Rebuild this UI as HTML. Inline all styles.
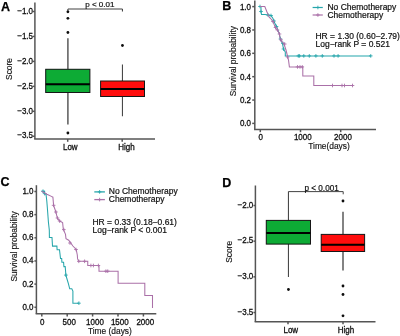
<!DOCTYPE html>
<html><head><meta charset="utf-8"><style>
html,body{margin:0;padding:0;background:#fff;width:400px;height:336px;overflow:hidden}
svg{display:block;will-change:transform}
text{font-family:"Liberation Sans",sans-serif}
</style></head><body>
<svg width="400" height="336" viewBox="0 0 400 336">
<defs><filter id="b" x="-5%" y="-5%" width="110%" height="110%"><feGaussianBlur stdDeviation="0.35"/></filter></defs>
<rect width="400" height="336" fill="#fff"/>
<g filter="url(#b)">
<text transform="translate(1.1,10.8)" font-size="12.5" text-anchor="start" font-weight="bold" fill="#000" stroke="#000" stroke-width="0.25">A</text>
<line x1="34.9" y1="2.5" x2="34.9" y2="139" stroke="#555" stroke-width="1.5"/>
<line x1="34.15" y1="139" x2="155" y2="139" stroke="#555" stroke-width="1.5"/>
<line x1="32.9" y1="11.5" x2="34.9" y2="11.5" stroke="#555" stroke-width="1.5"/>
<text transform="translate(33.0,13.71) scale(1,1.15)" font-size="8.0" text-anchor="end" font-weight="normal" fill="#111" stroke="#111" stroke-width="0.28">&#8722;1.0</text>
<line x1="32.9" y1="36.45" x2="34.9" y2="36.45" stroke="#555" stroke-width="1.5"/>
<text transform="translate(33.0,38.66) scale(1,1.15)" font-size="8.0" text-anchor="end" font-weight="normal" fill="#111" stroke="#111" stroke-width="0.28">&#8722;1.5</text>
<line x1="32.9" y1="61.4" x2="34.9" y2="61.4" stroke="#555" stroke-width="1.5"/>
<text transform="translate(33.0,63.61) scale(1,1.15)" font-size="8.0" text-anchor="end" font-weight="normal" fill="#111" stroke="#111" stroke-width="0.28">&#8722;2.0</text>
<line x1="32.9" y1="86.35" x2="34.9" y2="86.35" stroke="#555" stroke-width="1.5"/>
<text transform="translate(33.0,88.56) scale(1,1.15)" font-size="8.0" text-anchor="end" font-weight="normal" fill="#111" stroke="#111" stroke-width="0.28">&#8722;2.5</text>
<line x1="32.9" y1="111.3" x2="34.9" y2="111.3" stroke="#555" stroke-width="1.5"/>
<text transform="translate(33.0,113.51) scale(1,1.15)" font-size="8.0" text-anchor="end" font-weight="normal" fill="#111" stroke="#111" stroke-width="0.28">&#8722;3.0</text>
<line x1="32.9" y1="136.25" x2="34.9" y2="136.25" stroke="#555" stroke-width="1.5"/>
<text transform="translate(33.0,138.46) scale(1,1.15)" font-size="8.0" text-anchor="end" font-weight="normal" fill="#111" stroke="#111" stroke-width="0.28">&#8722;3.5</text>
<text transform="translate(12.0,69) rotate(-90)" font-size="8.4" text-anchor="middle" font-weight="normal" fill="#111" stroke="#111" stroke-width="0.15">Score</text>
<line x1="67.7" y1="139" x2="67.7" y2="141.8" stroke="#555" stroke-width="1.5"/>
<line x1="122.2" y1="139" x2="122.2" y2="141.8" stroke="#555" stroke-width="1.5"/>
<text transform="translate(70.3,150.22) scale(1,1.15)" font-size="8.0" text-anchor="middle" font-weight="normal" fill="#111" stroke="#111" stroke-width="0.28">Low</text>
<text transform="translate(126.4,150.22) scale(1,1.15)" font-size="8.0" text-anchor="middle" font-weight="normal" fill="#111" stroke="#111" stroke-width="0.28">High</text>
<line x1="67.9" y1="9" x2="122.45" y2="9" stroke="#444" stroke-width="1.1"/>
<line x1="67.9" y1="9" x2="67.9" y2="11.5" stroke="#444" stroke-width="1.1"/>
<line x1="122.45" y1="9" x2="122.45" y2="11.5" stroke="#444" stroke-width="1.1"/>
<text transform="translate(99.8,7.4)" font-size="8.0" text-anchor="middle" font-weight="normal" fill="#111" stroke="#111" stroke-width="0.2">p &lt; 0.01</text>
<line x1="67.9" y1="38.2" x2="67.9" y2="69.3" stroke="#5a5a5a" stroke-width="1.5"/>
<line x1="67.9" y1="92.5" x2="67.9" y2="124.5" stroke="#5a5a5a" stroke-width="1.5"/>
<rect x="45.7" y="69.3" width="44.2" height="23.2" fill="#08ab34" stroke="#151515" stroke-width="1"/>
<line x1="45.7" y1="84.3" x2="89.9" y2="84.3" stroke="#000" stroke-width="2"/>
<circle cx="67.9" cy="11.8" r="1.4" fill="#111"/>
<circle cx="67.9" cy="18.3" r="1.4" fill="#111"/>
<circle cx="67.9" cy="32.5" r="1.4" fill="#111"/>
<circle cx="67.9" cy="133" r="1.4" fill="#111"/>
<line x1="122.45" y1="64.5" x2="122.45" y2="81" stroke="#484848" stroke-width="1.1"/>
<line x1="122.45" y1="96.5" x2="122.45" y2="116.3" stroke="#484848" stroke-width="1.1"/>
<rect x="100.6" y="81" width="43.9" height="15.5" fill="#ff1008" stroke="#151515" stroke-width="1"/>
<line x1="100.6" y1="89.0" x2="144.5" y2="89.0" stroke="#000" stroke-width="1.9"/>
<circle cx="122.45" cy="45.5" r="1.4" fill="#111"/>
<text transform="translate(222.3,10.3)" font-size="12.5" text-anchor="start" font-weight="bold" fill="#000" stroke="#000" stroke-width="0.25">B</text>
<line x1="254.8" y1="0.5" x2="254.8" y2="129.4" stroke="#555" stroke-width="1.5"/>
<line x1="254.05" y1="129.4" x2="376" y2="129.4" stroke="#555" stroke-width="1.5"/>
<line x1="252.20000000000002" y1="6.6" x2="254.8" y2="6.6" stroke="#555" stroke-width="1.5"/>
<text transform="translate(251.0,9.51) scale(1,1.15)" font-size="8.0" text-anchor="end" font-weight="normal" fill="#111" stroke="#111" stroke-width="0.28">1.0</text>
<line x1="252.20000000000002" y1="29.96" x2="254.8" y2="29.96" stroke="#555" stroke-width="1.5"/>
<text transform="translate(251.0,32.87) scale(1,1.15)" font-size="8.0" text-anchor="end" font-weight="normal" fill="#111" stroke="#111" stroke-width="0.28">0.8</text>
<line x1="252.20000000000002" y1="53.32" x2="254.8" y2="53.32" stroke="#555" stroke-width="1.5"/>
<text transform="translate(251.0,56.23) scale(1,1.15)" font-size="8.0" text-anchor="end" font-weight="normal" fill="#111" stroke="#111" stroke-width="0.28">0.6</text>
<line x1="252.20000000000002" y1="76.67999999999999" x2="254.8" y2="76.67999999999999" stroke="#555" stroke-width="1.5"/>
<text transform="translate(251.0,79.59) scale(1,1.15)" font-size="8.0" text-anchor="end" font-weight="normal" fill="#111" stroke="#111" stroke-width="0.28">0.4</text>
<line x1="252.20000000000002" y1="100.03999999999999" x2="254.8" y2="100.03999999999999" stroke="#555" stroke-width="1.5"/>
<text transform="translate(251.0,102.95) scale(1,1.15)" font-size="8.0" text-anchor="end" font-weight="normal" fill="#111" stroke="#111" stroke-width="0.28">0.2</text>
<line x1="252.20000000000002" y1="123.39999999999999" x2="254.8" y2="123.39999999999999" stroke="#555" stroke-width="1.5"/>
<text transform="translate(251.0,126.31) scale(1,1.15)" font-size="8.0" text-anchor="end" font-weight="normal" fill="#111" stroke="#111" stroke-width="0.28">0.0</text>
<line x1="260.3" y1="129.4" x2="260.3" y2="132.2" stroke="#555" stroke-width="1.5"/>
<text transform="translate(260.7,140.42) scale(1,1.15)" font-size="8.0" text-anchor="middle" font-weight="normal" fill="#111" stroke="#111" stroke-width="0.28">0</text>
<line x1="300.5" y1="129.4" x2="300.5" y2="132.2" stroke="#555" stroke-width="1.5"/>
<text transform="translate(302.8,140.42) scale(1,1.15)" font-size="8.0" text-anchor="middle" font-weight="normal" fill="#111" stroke="#111" stroke-width="0.28">1000</text>
<line x1="340.70000000000005" y1="129.4" x2="340.70000000000005" y2="132.2" stroke="#555" stroke-width="1.5"/>
<text transform="translate(343.0,140.42) scale(1,1.15)" font-size="8.0" text-anchor="middle" font-weight="normal" fill="#111" stroke="#111" stroke-width="0.28">2000</text>
<text transform="translate(329.0,149.3)" font-size="8.4" text-anchor="middle" font-weight="normal" fill="#111" stroke="#111" stroke-width="0.15">Time(days)</text>
<text transform="translate(235.7,61.2) rotate(-90)" font-size="8.4" text-anchor="middle" font-weight="normal" fill="#111" stroke="#111" stroke-width="0.15">Survival probability</text>
<line x1="312.6" y1="7.5" x2="322.8" y2="7.5" stroke="#27a6ab" stroke-width="1.2"/>
<path d="M316.09999999999997,7.5H319.7M317.9,5.7V9.3" stroke="#27a6ab" stroke-width="0.9"/>
<line x1="312.6" y1="15" x2="322.8" y2="15" stroke="#aa70a8" stroke-width="1.2"/>
<path d="M316.09999999999997,15H319.7M317.9,13.2V16.8" stroke="#aa70a8" stroke-width="0.9"/>
<text transform="translate(327.5,9.7) scale(1,1.03)" font-size="8.5" text-anchor="start" font-weight="normal" fill="#111" stroke="#111" stroke-width="0.2">No Chemotherapy</text>
<text transform="translate(327.5,17.8) scale(1,1.03)" font-size="8.5" text-anchor="start" font-weight="normal" fill="#111" stroke="#111" stroke-width="0.2">Chemotherapy</text>
<text transform="translate(315.5,38.5) scale(1,1.03)" font-size="8.5" text-anchor="start" font-weight="normal" fill="#111" stroke="#111" stroke-width="0.2">HR = 1.30 (0.60&#8722;2.79)</text>
<text transform="translate(315.5,46.8) scale(1,1.03)" font-size="8.5" text-anchor="start" font-weight="normal" fill="#111" stroke="#111" stroke-width="0.2">Log&#8722;rank P = 0.521</text>
<polyline points="260,6.5 261,6.5 261,11.5 261.5,14.5 265,14.5 268,15 271,15.5 273,18.5 274.5,22.6 277,27.4 279.3,33.9 280.5,39.9 282.5,43.4 283.5,49.4 285.3,52 285.3,55.9 371,55.9" fill="none" stroke="#27a6ab" stroke-width="1.05" stroke-linejoin="miter"/>
<path d="M296.5,55.9H300.1M298.3,54.1V57.699999999999996" stroke="#27a6ab" stroke-width="0.9"/>
<path d="M297.8,55.9H301.40000000000003M299.6,54.1V57.699999999999996" stroke="#27a6ab" stroke-width="0.9"/>
<path d="M302.0,55.9H305.6M303.8,54.1V57.699999999999996" stroke="#27a6ab" stroke-width="0.9"/>
<path d="M307.5,55.9H311.1M309.3,54.1V57.699999999999996" stroke="#27a6ab" stroke-width="0.9"/>
<path d="M314.09999999999997,55.9H317.7M315.9,54.1V57.699999999999996" stroke="#27a6ab" stroke-width="0.9"/>
<path d="M320.5,55.9H324.1M322.3,54.1V57.699999999999996" stroke="#27a6ab" stroke-width="0.9"/>
<path d="M332.2,55.9H335.8M334,54.1V57.699999999999996" stroke="#27a6ab" stroke-width="0.9"/>
<path d="M336.3,55.9H339.90000000000003M338.1,54.1V57.699999999999996" stroke="#27a6ab" stroke-width="0.9"/>
<path d="M368.95,55.9H372.55M370.75,54.1V57.699999999999996" stroke="#27a6ab" stroke-width="0.9"/>
<path d="M258.2,6.5H261.8M260,4.7V8.3" stroke="#27a6ab" stroke-width="0.9"/>
<path d="M259.2,11.5H262.8M261,9.7V13.3" stroke="#27a6ab" stroke-width="0.9"/>
<path d="M266.2,15H269.8M268,13.2V16.8" stroke="#27a6ab" stroke-width="0.9"/>
<path d="M269.2,15.5H272.8M271,13.7V17.3" stroke="#27a6ab" stroke-width="0.9"/>
<path d="M272.2,21H275.8M274,19.2V22.8" stroke="#27a6ab" stroke-width="0.9"/>
<path d="M274.7,26.5H278.3M276.5,24.7V28.3" stroke="#27a6ab" stroke-width="0.9"/>
<path d="M278.7,39H282.3M280.5,37.2V40.8" stroke="#27a6ab" stroke-width="0.9"/>
<path d="M281.09999999999997,43.4H284.7M282.9,41.6V45.199999999999996" stroke="#27a6ab" stroke-width="0.9"/>
<path d="M281.7,49H285.3M283.5,47.2V50.8" stroke="#27a6ab" stroke-width="0.9"/>
<polyline points="260,6.5 264.8,6.5 267,12 269.2,17.1 271.5,19.5 273,21.9 275.9,28.6 277.5,30 279.3,33.9 280.5,39.9 284,44 286,50 287.6,56.5 288.5,60 289.4,66.9 302.8,66.9 302.8,76 313.8,76 313.8,85.5 352.5,85.5" fill="none" stroke="#aa70a8" stroke-width="1.05" stroke-linejoin="miter"/>
<path d="M295.7,66.9H299.3M297.5,65.10000000000001V68.7" stroke="#aa70a8" stroke-width="0.9"/>
<path d="M298.2,66.9H301.8M300,65.10000000000001V68.7" stroke="#aa70a8" stroke-width="0.9"/>
<path d="M300.5,66.9H304.1M302.3,65.10000000000001V68.7" stroke="#aa70a8" stroke-width="0.9"/>
<path d="M330.7,85.5H334.3M332.5,83.7V87.3" stroke="#aa70a8" stroke-width="0.9"/>
<path d="M340.2,85.5H343.8M342,83.7V87.3" stroke="#aa70a8" stroke-width="0.9"/>
<path d="M342.7,85.5H346.3M344.5,83.7V87.3" stroke="#aa70a8" stroke-width="0.9"/>
<path d="M350.7,85.5H354.3M352.5,83.7V87.3" stroke="#aa70a8" stroke-width="0.9"/>
<path d="M271.2,21.5H274.8M273,19.7V23.3" stroke="#aa70a8" stroke-width="0.9"/>
<path d="M273.7,27.5H277.3M275.5,25.7V29.3" stroke="#aa70a8" stroke-width="0.9"/>
<path d="M275.7,30H279.3M277.5,28.2V31.8" stroke="#aa70a8" stroke-width="0.9"/>
<path d="M277.7,34H281.3M279.5,32.2V35.8" stroke="#aa70a8" stroke-width="0.9"/>
<path d="M279.2,39.9H282.8M281,38.1V41.699999999999996" stroke="#aa70a8" stroke-width="0.9"/>
<path d="M282.9,44H286.5M284.7,42.2V45.8" stroke="#aa70a8" stroke-width="0.9"/>
<path d="M285.8,57H289.40000000000003M287.6,55.2V58.8" stroke="#aa70a8" stroke-width="0.9"/>
<text transform="translate(0.6,186.4)" font-size="12.5" text-anchor="start" font-weight="bold" fill="#000" stroke="#000" stroke-width="0.25">C</text>
<line x1="36.4" y1="185.2" x2="36.4" y2="313.8" stroke="#555" stroke-width="1.5"/>
<line x1="35.65" y1="313.8" x2="156.3" y2="313.8" stroke="#555" stroke-width="1.5"/>
<line x1="34.4" y1="191.5" x2="36.4" y2="191.5" stroke="#555" stroke-width="1.5"/>
<text transform="translate(33.5,193.91) scale(1,1.15)" font-size="8.0" text-anchor="end" font-weight="normal" fill="#111" stroke="#111" stroke-width="0.28">1.0</text>
<line x1="34.4" y1="214.65" x2="36.4" y2="214.65" stroke="#555" stroke-width="1.5"/>
<text transform="translate(33.5,217.06) scale(1,1.15)" font-size="8.0" text-anchor="end" font-weight="normal" fill="#111" stroke="#111" stroke-width="0.28">0.8</text>
<line x1="34.4" y1="237.8" x2="36.4" y2="237.8" stroke="#555" stroke-width="1.5"/>
<text transform="translate(33.5,240.21) scale(1,1.15)" font-size="8.0" text-anchor="end" font-weight="normal" fill="#111" stroke="#111" stroke-width="0.28">0.6</text>
<line x1="34.4" y1="260.95" x2="36.4" y2="260.95" stroke="#555" stroke-width="1.5"/>
<text transform="translate(33.5,263.36) scale(1,1.15)" font-size="8.0" text-anchor="end" font-weight="normal" fill="#111" stroke="#111" stroke-width="0.28">0.4</text>
<line x1="34.4" y1="284.1" x2="36.4" y2="284.1" stroke="#555" stroke-width="1.5"/>
<text transform="translate(33.5,286.51) scale(1,1.15)" font-size="8.0" text-anchor="end" font-weight="normal" fill="#111" stroke="#111" stroke-width="0.28">0.2</text>
<line x1="34.4" y1="307.25" x2="36.4" y2="307.25" stroke="#555" stroke-width="1.5"/>
<text transform="translate(33.5,309.66) scale(1,1.15)" font-size="8.0" text-anchor="end" font-weight="normal" fill="#111" stroke="#111" stroke-width="0.28">0.0</text>
<line x1="41.8" y1="313.8" x2="41.8" y2="316.5" stroke="#555" stroke-width="1.5"/>
<text transform="translate(42.3,324.52) scale(1,1.15)" font-size="8.0" text-anchor="middle" font-weight="normal" fill="#111" stroke="#111" stroke-width="0.28">0</text>
<line x1="67.19999999999999" y1="313.8" x2="67.19999999999999" y2="316.5" stroke="#555" stroke-width="1.5"/>
<text transform="translate(69.2,324.52) scale(1,1.15)" font-size="8.0" text-anchor="middle" font-weight="normal" fill="#111" stroke="#111" stroke-width="0.28">500</text>
<line x1="92.6" y1="313.8" x2="92.6" y2="316.5" stroke="#555" stroke-width="1.5"/>
<text transform="translate(95.0,324.52) scale(1,1.15)" font-size="8.0" text-anchor="middle" font-weight="normal" fill="#111" stroke="#111" stroke-width="0.28">1000</text>
<line x1="118.0" y1="313.8" x2="118.0" y2="316.5" stroke="#555" stroke-width="1.5"/>
<text transform="translate(119.8,324.52) scale(1,1.15)" font-size="8.0" text-anchor="middle" font-weight="normal" fill="#111" stroke="#111" stroke-width="0.28">1500</text>
<line x1="143.39999999999998" y1="313.8" x2="143.39999999999998" y2="316.5" stroke="#555" stroke-width="1.5"/>
<text transform="translate(145.3,324.52) scale(1,1.15)" font-size="8.0" text-anchor="middle" font-weight="normal" fill="#111" stroke="#111" stroke-width="0.28">2000</text>
<text transform="translate(109.9,333.8)" font-size="8.4" text-anchor="middle" font-weight="normal" fill="#111" stroke="#111" stroke-width="0.15">Time (days)</text>
<text transform="translate(17.3,246.4) rotate(-90)" font-size="8.4" text-anchor="middle" font-weight="normal" fill="#111" stroke="#111" stroke-width="0.15">Survival probability</text>
<line x1="94.3" y1="191.9" x2="104.9" y2="191.9" stroke="#27a6ab" stroke-width="1.3"/>
<path d="M97.8,191.9H101.39999999999999M99.6,190.1V193.70000000000002" stroke="#27a6ab" stroke-width="0.9"/>
<line x1="94.3" y1="199.6" x2="104.9" y2="199.6" stroke="#aa70a8" stroke-width="1.3"/>
<path d="M97.8,199.6H101.39999999999999M99.6,197.79999999999998V201.4" stroke="#aa70a8" stroke-width="0.9"/>
<text transform="translate(108.8,194.3) scale(1,1.03)" font-size="8.5" text-anchor="start" font-weight="normal" fill="#111" stroke="#111" stroke-width="0.2">No Chemotherapy</text>
<text transform="translate(108.8,202.0) scale(1,1.03)" font-size="8.5" text-anchor="start" font-weight="normal" fill="#111" stroke="#111" stroke-width="0.2">Chemotherapy</text>
<text transform="translate(92.5,224.5) scale(1,1.03)" font-size="8.5" text-anchor="start" font-weight="normal" fill="#111" stroke="#111" stroke-width="0.2">HR = 0.33 (0.18&#8722;0.61)</text>
<text transform="translate(92.5,233.2) scale(1,1.03)" font-size="8.5" text-anchor="start" font-weight="normal" fill="#111" stroke="#111" stroke-width="0.2">Log&#8722;rank P &lt; 0.001</text>
<polyline points="41.7,191.2 44.6,191.2 44.6,193.6 46,194.2 46.8,201 47.6,211 48.4,222 49.3,230 49.4,237.5 52,237.5 52.5,246.1 56.9,246.1 57.1,249.8 59.5,249.8 60.5,258.4 61.7,258.4 61.9,262.2 63.6,262.2 63.9,266.6 65.2,266.6 65.9,275.1 67,279 68.4,283.6 69.7,288.8 71.8,288.8 72.9,291 72.9,303.2 78.9,303.2" fill="none" stroke="#27a6ab" stroke-width="1.05" stroke-linejoin="miter"/>
<path d="M77.10000000000001,303.2H80.7M78.9,301.4V305.0" stroke="#27a6ab" stroke-width="0.9"/>
<path d="M64.10000000000001,275.1H67.7M65.9,273.3V276.90000000000003" stroke="#27a6ab" stroke-width="0.9"/>
<path d="M41.2,191.2H44.8M43,189.39999999999998V193.0" stroke="#27a6ab" stroke-width="0.9"/>
<path d="M42.800000000000004,193.6H46.4M44.6,191.79999999999998V195.4" stroke="#27a6ab" stroke-width="0.9"/>
<polyline points="41.7,191.2 46.9,194.2 51.4,196.4 52.9,197.2 53.6,205.3 55.9,212 57.3,218 59.6,221 62.6,222.5 63.3,229.2 65.5,234.4 66,238.6 68.7,240.2 72.9,246 76.2,249.5 77.3,255 77.6,258.9 78.9,261.3 87.75,261.3 87.75,265.5 99,265.5 99,271.2 118.1,271.2 118.1,283.3 144.8,283.3 144.8,295.5 152.5,295.5 152.5,307.9" fill="none" stroke="#aa70a8" stroke-width="1.05" stroke-linejoin="miter"/>
<path d="M51.800000000000004,205.3H55.4M53.6,203.5V207.10000000000002" stroke="#aa70a8" stroke-width="0.9"/>
<path d="M54.1,212H57.699999999999996M55.9,210.2V213.8" stroke="#aa70a8" stroke-width="0.9"/>
<path d="M55.7,218H59.3M57.5,216.2V219.8" stroke="#aa70a8" stroke-width="0.9"/>
<path d="M57.800000000000004,221H61.4M59.6,219.2V222.8" stroke="#aa70a8" stroke-width="0.9"/>
<path d="M62.0,229.6H65.6M63.8,227.79999999999998V231.4" stroke="#aa70a8" stroke-width="0.9"/>
<path d="M68.2,243H71.8M70,241.2V244.8" stroke="#aa70a8" stroke-width="0.9"/>
<path d="M74.2,249.5H77.8M76,247.7V251.3" stroke="#aa70a8" stroke-width="0.9"/>
<path d="M77.0,261.3H80.6M78.8,259.5V263.1" stroke="#aa70a8" stroke-width="0.9"/>
<path d="M82.8,261.3H86.39999999999999M84.6,259.5V263.1" stroke="#aa70a8" stroke-width="0.9"/>
<path d="M89.10000000000001,265.5H92.7M90.9,263.7V267.3" stroke="#aa70a8" stroke-width="0.9"/>
<path d="M91.60000000000001,265.5H95.2M93.4,263.7V267.3" stroke="#aa70a8" stroke-width="0.9"/>
<path d="M96.60000000000001,265.5H100.2M98.4,263.7V267.3" stroke="#aa70a8" stroke-width="0.9"/>
<path d="M104.10000000000001,271.2H107.7M105.9,269.4V273.0" stroke="#aa70a8" stroke-width="0.9"/>
<path d="M105.95,271.2H109.55M107.75,269.4V273.0" stroke="#aa70a8" stroke-width="0.9"/>
<text transform="translate(222.3,186.6)" font-size="12.5" text-anchor="start" font-weight="bold" fill="#000" stroke="#000" stroke-width="0.25">D</text>
<line x1="255.4" y1="185.5" x2="255.4" y2="321.8" stroke="#555" stroke-width="1.5"/>
<line x1="254.65" y1="321.8" x2="375.5" y2="321.8" stroke="#555" stroke-width="1.5"/>
<line x1="253.4" y1="205.5" x2="255.4" y2="205.5" stroke="#555" stroke-width="1.5"/>
<text transform="translate(253.3,207.81) scale(1,1.15)" font-size="8.0" text-anchor="end" font-weight="normal" fill="#111" stroke="#111" stroke-width="0.28">&#8722;2.0</text>
<line x1="253.4" y1="241.17000000000002" x2="255.4" y2="241.17000000000002" stroke="#555" stroke-width="1.5"/>
<text transform="translate(253.3,243.48) scale(1,1.15)" font-size="8.0" text-anchor="end" font-weight="normal" fill="#111" stroke="#111" stroke-width="0.28">&#8722;2.5</text>
<line x1="253.4" y1="276.84000000000003" x2="255.4" y2="276.84000000000003" stroke="#555" stroke-width="1.5"/>
<text transform="translate(253.3,279.15) scale(1,1.15)" font-size="8.0" text-anchor="end" font-weight="normal" fill="#111" stroke="#111" stroke-width="0.28">&#8722;3.0</text>
<line x1="253.4" y1="312.51" x2="255.4" y2="312.51" stroke="#555" stroke-width="1.5"/>
<text transform="translate(253.3,314.82) scale(1,1.15)" font-size="8.0" text-anchor="end" font-weight="normal" fill="#111" stroke="#111" stroke-width="0.28">&#8722;3.5</text>
<text transform="translate(232.3,251.9) rotate(-90)" font-size="8.4" text-anchor="middle" font-weight="normal" fill="#111" stroke="#111" stroke-width="0.15">Score</text>
<line x1="288" y1="321.8" x2="288" y2="324.3" stroke="#555" stroke-width="1.5"/>
<line x1="343" y1="321.8" x2="343" y2="324.3" stroke="#555" stroke-width="1.5"/>
<text transform="translate(290.8,332.52) scale(1,1.15)" font-size="8.0" text-anchor="middle" font-weight="normal" fill="#111" stroke="#111" stroke-width="0.28">Low</text>
<text transform="translate(345.9,332.52) scale(1,1.15)" font-size="8.0" text-anchor="middle" font-weight="normal" fill="#111" stroke="#111" stroke-width="0.28">High</text>
<line x1="288.45" y1="191.6" x2="343.2" y2="191.6" stroke="#444" stroke-width="1.0"/>
<line x1="343.2" y1="191.6" x2="343.2" y2="194.3" stroke="#444" stroke-width="1.0"/>
<text transform="translate(321.6,190.7)" font-size="8.2" text-anchor="middle" font-weight="normal" fill="#111" stroke="#111" stroke-width="0.2">p &lt; 0.001</text>
<line x1="288.45" y1="191.6" x2="288.45" y2="220.5" stroke="#484848" stroke-width="1.1"/>
<line x1="288.45" y1="243.8" x2="288.45" y2="277" stroke="#484848" stroke-width="1.1"/>
<rect x="266.3" y="220.4" width="44.2" height="23.7" fill="#08ab34" stroke="#151515" stroke-width="1"/>
<line x1="266.3" y1="232.9" x2="310.5" y2="232.9" stroke="#000" stroke-width="2"/>
<circle cx="288.45" cy="289.5" r="1.4" fill="#111"/>
<line x1="343" y1="211.8" x2="343" y2="234.5" stroke="#5a5a5a" stroke-width="1.5"/>
<line x1="343" y1="251.3" x2="343" y2="270.5" stroke="#5a5a5a" stroke-width="1.5"/>
<rect x="321.2" y="234.4" width="43.4" height="17.1" fill="#ff1008" stroke="#151515" stroke-width="1"/>
<line x1="321.2" y1="244.8" x2="364.6" y2="244.8" stroke="#000" stroke-width="1.9"/>
<circle cx="343" cy="201" r="1.4" fill="#111"/>
<circle cx="343" cy="286" r="1.4" fill="#111"/>
<circle cx="343" cy="294.5" r="1.4" fill="#111"/>
<circle cx="343" cy="315.8" r="1.4" fill="#111"/>
</g>
</svg>
</body></html>
